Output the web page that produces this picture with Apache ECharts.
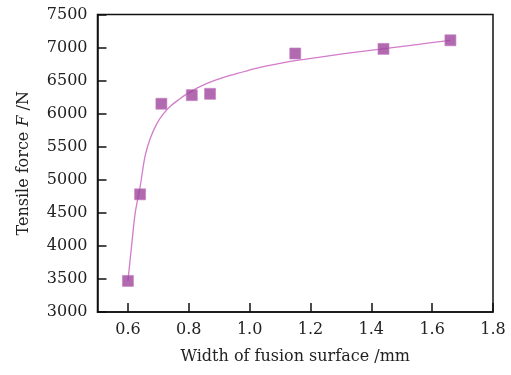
<!DOCTYPE html>
<html>
<head>
<meta charset="utf-8">
<script src="https://cdn.jsdelivr.net/npm/echarts@6/dist/echarts.min.js"></script>
<style>
  html, body { margin: 0; padding: 0; background: #fff; }
  #chart { width: 511px; height: 375px; }
</style>
</head>
<body>
<div id="chart"></div>
<script>
// measured points (width mm, tensile force N)
const widths = [0.60, 0.64, 0.71, 0.81, 0.87, 1.15, 1.44, 1.66];
const forces = [3470, 4780, 6150, 6280, 6300, 6910, 6980, 7110];

// fitted curve
const fitX = [0.600, 0.612, 0.624, 0.640, 0.656, 0.673, 0.695, 0.717, 0.744, 0.771, 0.793, 0.837, 0.881, 0.936, 0.991, 1.045, 1.100, 1.155, 1.26, 1.35, 1.43, 1.55, 1.66];
const fitY = [3470, 4000, 4500, 4890, 5350, 5620, 5850, 6000, 6130, 6225, 6295, 6410, 6495, 6578, 6648, 6710, 6762, 6806, 6875, 6930, 6975, 7045, 7110];

const xTicks = [0.6, 0.8, 1.0, 1.2, 1.4, 1.6, 1.8];

const font = "DejaVu Serif";
const chart = echarts.init(document.getElementById("chart"));

const option = {
  animation: false,
  grid: {
    left: 97.5, right: 18, top: 14.5, bottom: 63,
    show: true, borderColor: "#111", borderWidth: 1.5
  },
  xAxis: {
    type: "value",
    min: 0.5, max: 1.8,
    name: "Width of fusion surface /mm",
    nameLocation: "middle",
    nameGap: 37,
    nameTextStyle: { fontFamily: font, fontSize: 16, color: "#222" },
    axisLine: { lineStyle: { color: "#111", width: 1.5 } },
    axisTick: { inside: true, length: 9, customValues: xTicks, lineStyle: { color: "#111", width: 1.5 } },
    axisLabel: {
      fontFamily: font, fontSize: 16, color: "#222", margin: 10,
      formatter: (v) => v.toFixed(1),
      customValues: xTicks
    },
    splitLine: { show: false }
  },
  yAxis: {
    type: "value",
    min: 3000, max: 7500, interval: 500,
    name: "{n|Tensile force }{i|F}{n| /N}",
    nameLocation: "middle",
    nameGap: 66,
    nameTextStyle: {
      rich: {
        n: { fontFamily: font, fontSize: 16, color: "#222" },
        i: { fontFamily: font, fontSize: 16, color: "#222", fontStyle: "italic" }
      }
    },
    axisLine: { lineStyle: { color: "#111", width: 1.5 } },
    axisTick: { inside: true, length: 9, lineStyle: { color: "#111", width: 1.5 } },
    axisLabel: { fontFamily: font, fontSize: 16, color: "#222", margin: 10, formatter: (v) => String(v) },
    splitLine: { show: false }
  },
  series: [
    {
      type: "line",
      data: fitX.map((x, i) => [x, fitY[i]]),
      smooth: 0.3,
      showSymbol: false,
      lineStyle: { color: "#d27ccb", width: 1.3 },
      z: 2
    },
    {
      type: "scatter",
      data: widths.map((x, i) => [x, forces[i]]),
      symbol: "rect",
      symbolSize: 11,
      itemStyle: { color: "#9e449c", borderColor: "#c57fc2", borderWidth: 0.8 },
      z: 3
    }
  ]
};

chart.setOption(option);
</script>
</body>
</html>
